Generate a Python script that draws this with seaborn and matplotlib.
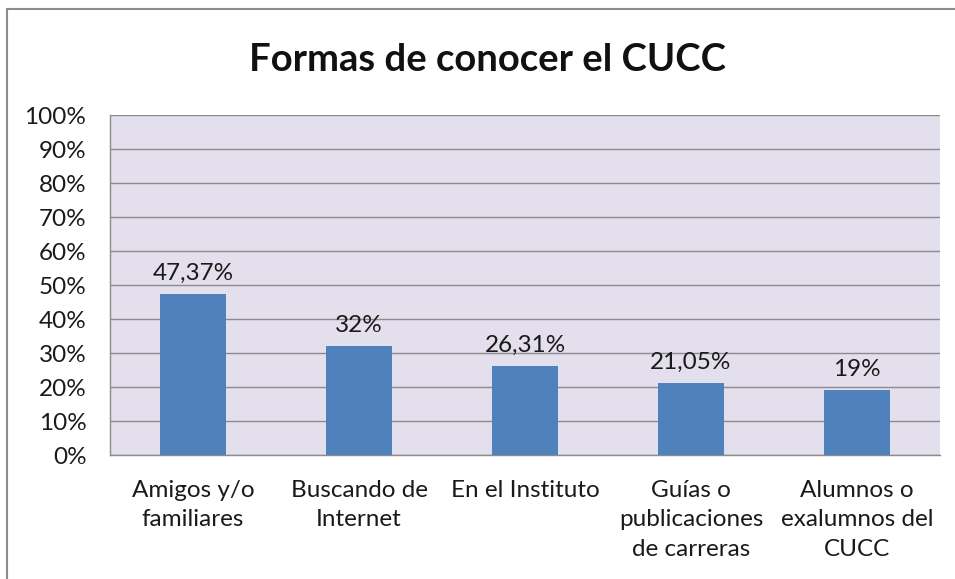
import matplotlib
matplotlib.use('Agg')
import matplotlib.pyplot as plt
import matplotlib.patches as mpatches
import pandas as pd
import seaborn as sns

categories = ["Amigos y/o\nfamiliares", "Buscando de\nInternet", "En el Instituto",
              "Guías o\npublicaciones\nde carreras", "Alumnos o\nexalumnos del\nCUCC"]
values = [47.37, 32, 26.31, 21.05, 19]
value_labels = ["47,37%", "32%", "26,31%", "21,05%", "19%"]
yticks = list(range(0, 101, 10))

sns.set_style("white")
plt.rcParams['font.family'] = ['Lato', 'DejaVu Sans']

df = pd.DataFrame({"forma": categories, "pct": values})

fig = plt.figure(figsize=(9.55, 5.79), dpi=100)
ax = fig.add_axes([110 / 955, 1 - 455 / 579, 830 / 955, 340 / 579])

sns.barplot(data=df, x="forma", y="pct", color="#4F81BD", saturation=1,
            width=0.4, linewidth=0, ax=ax, zorder=3)

ax.set_facecolor("#E4DFEC")
ax.set_ylim(0, 100)
ax.set_xlim(-0.5, len(categories) - 0.5)
ax.set_yticks(yticks)
ax.set_yticklabels([f"{t}%" for t in yticks], fontsize=17.5, color="#1a1a1a")
ax.grid(axis='y', color="#8C8C8C", linewidth=1, zorder=0)
ax.grid(axis='x', visible=False)
ax.set_axisbelow(True)
ax.tick_params(axis='y', length=0, pad=17)
ax.tick_params(axis='x', length=0, pad=18)
ax.set_xticklabels(categories, fontsize=17.5, color="#1a1a1a", linespacing=1.5)
ax.set_xlabel("")
ax.set_ylabel("")

for s in ["top", "right"]:
    ax.spines[s].set_visible(False)
for s in ["left", "bottom"]:
    ax.spines[s].set_color("#8C8C8C")
    ax.spines[s].set_linewidth(1)

for i, (v, lab) in enumerate(zip(values, value_labels)):
    ax.text(i, v + 3, lab, ha='center', va='bottom', fontsize=17.5, color="#1a1a1a")

fig.text(487 / 955, 1 - 60 / 579, "Formas de conocer el CUCC", ha='center', va='center',
         fontsize=27.5, fontweight='bold', color="#111111")

fig.patches.append(mpatches.Rectangle((7 / 955, -0.05), 1.2, 1 - 9 / 579 + 0.05,
                                      transform=fig.transFigure, fill=False,
                                      edgecolor="#8C8C8C", linewidth=1.5))

fig.savefig("out.png", dpi=100)
